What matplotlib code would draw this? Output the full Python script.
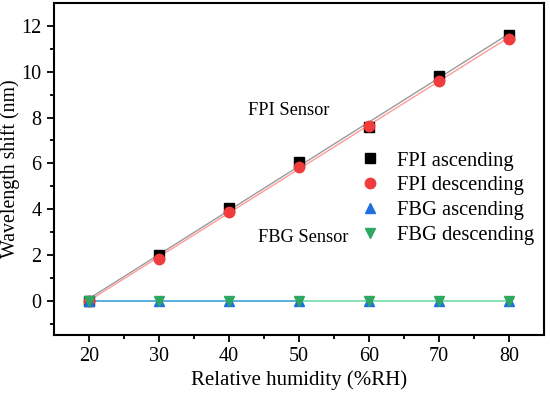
import numpy as np
import matplotlib
matplotlib.use("Agg")
import matplotlib.pyplot as plt

plt.rcParams['font.family'] = ['Liberation Serif', 'DejaVu Serif']
plt.rcParams['mathtext.fontset'] = 'stix'

# data
humidity = [20, 30, 40, 50, 60, 70, 80]
fpi_asc = [0.0, 1.98, 4.05, 6.08, 7.58, 9.80, 11.62]
fpi_desc = [0.0, 1.82, 3.87, 5.85, 7.65, 9.62, 11.45]
fbg_asc = [0.0, 0.0, 0.0, 0.0, 0.0, 0.0, 0.0]
fbg_desc = [0.0, 0.0, 0.0, 0.0, 0.0, 0.0, 0.0]

x = np.array(humidity)

fig = plt.figure(figsize=(5.5, 3.95), dpi=100)
ax = fig.add_axes([0.098, 0.152, 0.891, 0.840])

# linear fits
for y, c in [(fpi_asc, '#9a9a9a'), (fpi_desc, '#ff9a9a')]:
    k, b = np.polyfit(x, y, 1)
    ax.plot(x, k * x + b, color=c, lw=1.0, zorder=1)
ax.plot(x[:4], np.array(fbg_asc)[:4], color='#3d9fd6', lw=1.2, zorder=1)
ax.plot(x[3:], np.array(fbg_desc)[3:], color='#74dba8', lw=1.2, zorder=1)

ax.plot(x, fpi_asc, 's', color='black', ms=6.5, ls='none', label='FPI ascending', zorder=3)
ax.plot(x, fpi_desc, 'o', color='#f03c3c', ms=7.5, ls='none', label='FPI descending', zorder=4)
ax.plot(x, fbg_asc, '^', color='#1f6fe0', ms=7.5, ls='none', label='FBG ascending', zorder=5)
ax.plot(x, fbg_desc, 'v', color='#2ea860', ms=7.5, ls='none', label='FBG descending', zorder=6)

ax.set_xlim(15, 85)
ax.set_ylim(-1.5, 13)
ax.set_xticks([20, 30, 40, 50, 60, 70, 80])
ax.set_xticks([25, 35, 45, 55, 65, 75], minor=True)
ax.set_yticks([0, 2, 4, 6, 8, 10, 12])
ax.set_yticks([-1, 1, 3, 5, 7, 9, 11], minor=True)
ax.tick_params(which='both', direction='out', labelsize=14.5, width=1.3)
ax.tick_params(which='major', length=5, pad=4)
ax.tick_params(which='minor', length=3, labelsize=0)
for s in ax.spines.values():
    s.set_linewidth(1.5)

ax.set_xlabel('Relative humidity (%RH)', fontsize=15, labelpad=3)
ax.set_ylabel('Wavelength shift (nm)', fontsize=14.3, labelpad=1)

ax.text(48.6, 8.3, 'FPI Sensor', fontsize=13.2, ha='center', va='center')
ax.text(50.6, 2.75, 'FBG Sensor', fontsize=13.2, ha='center', va='center')

ax.legend(loc='upper left', bbox_to_anchor=(0.599, 0.585), frameon=False,
          fontsize=14.8, handlelength=1.2, handletextpad=0.7, labelspacing=0.26,
          borderpad=0)

fig.savefig('out.png', dpi=100)
